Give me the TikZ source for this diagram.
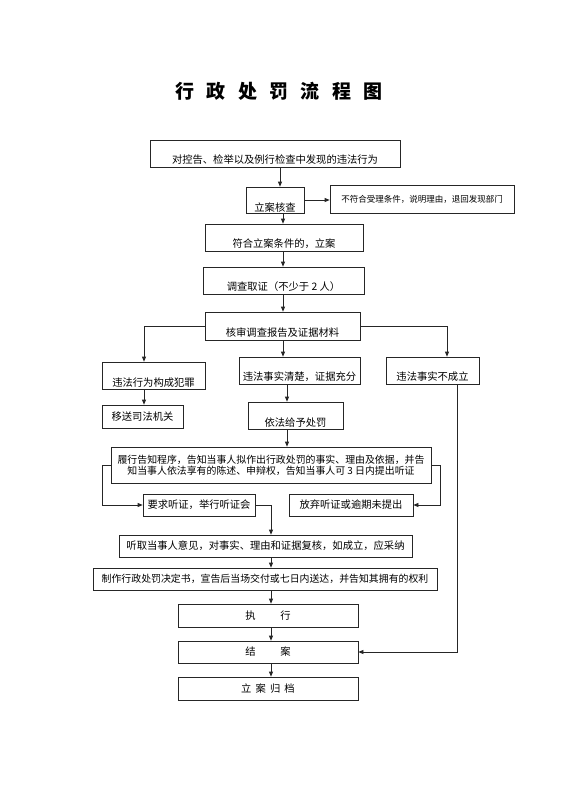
\documentclass[tikz,border=0pt]{standalone}
\usepackage{fontspec}
\setmainfont{Noto Sans CJK SC}
\usetikzlibrary{arrows.meta, positioning}

\begin{document}
\begin{tikzpicture}[
    x=1pt, y=-1pt,
    font=\fontsize{10.3}{11}\selectfont,
    box/.style 2 args={draw=black!85, line width=0.7pt, inner sep=0pt, minimum width=#1, minimum height=#2, align=center},
    low/.style 2 args={text height=#1, text depth=#2},
    small/.style={font=\fontsize{9.9}{11}\selectfont},
    arrow/.style={-{Triangle[length=5pt, width=4pt]}, line width=0.7pt, draw=black!85},
    link/.style={line width=0.7pt, draw=black!85}
]
\useasboundingbox (0,0) rectangle (560,792);

% title
\node[font=\fontsize{19}{20}\selectfont\bfseries] (title) at (279,91)
  {行\hspace{0.65em}政\hspace{0.65em}处\hspace{0.65em}罚\hspace{0.65em}流\hspace{0.65em}程\hspace{0.65em}图};

% columns used by the connectors
\coordinate (cA) at (280,0);
\coordinate (cB) at (283,0);
\coordinate (cC) at (287,0);
\coordinate (cD) at (271,0);
\coordinate (cL) at (144,0);
\coordinate (cR) at (447,0);
\coordinate (cS) at (457,0);
\coordinate (cLL) at (102,0);
\coordinate (cRR) at (440,0);

\node[box={250pt}{27pt}, low={23pt}{4pt}] (report) at (275,153.5) {对控告、检举以及例行检查中发现的违法行为};
\node[box={58pt}{26pt}, low={24pt}{2pt}] (check) at (275,200) {立案核查};
\node[box={184pt}{28pt}, low={17pt}{11pt}, font=\fontsize{8.5}{10}\selectfont] (reject) at (422,199) {不符合受理条件，说明理由，退回发现部门};
\node[box={158pt}{27pt}, low={23pt}{4pt}] (accept) at (284,237.5) {符合立案条件的，立案};
\node[box={161pt}{27pt}, low={23pt}{4pt}] (survey) at (283.5,280.5) {调查取证（不少于 2 人）};
\node[box={155pt}{28pt}, low={24pt}{4pt}] (review) at (282.5,326) {核审调查报告及证据材料};
\node[box={103pt}{27pt}, low={24pt}{3pt}] (crime) at (153.5,375.5) {违法行为构成犯罪};
\node[box={121pt}{27pt}, low={23pt}{4pt}] (clear) at (299.5,370.5) {违法事实清楚，证据充分};
\node[box={93pt}{27pt}, low={23pt}{4pt}] (nofact) at (432.5,370.5) {违法事实不成立};
\node[box={81pt}{23pt}, low={15pt}{8pt}] (court) at (142.5,416.5) {移送司法机关};
\node[box={95pt}{27pt}, low={24pt}{3pt}] (punish) at (295.5,415.5) {依法给予处罚};
\node[box={320pt}{36pt}, small] (inform) at (271,465)
  {履行告知程序，告知当事人拟作出行政处罚的事实、理由及依据，并告\\知当事人依法享有的陈述、申辩权，告知当事人可 3 日内提出听证};
\node[box={112pt}{22pt}] (hearing) at (199,505) {要求听证，举行听证会};
\node[box={124pt}{22pt}] (waive) at (351,505) {放弃听证或逾期未提出};
\node[box={293pt}{22pt}] (opinion) at (265.5,546) {听取当事人意见，对事实、理由和证据复核，如成立，应采纳};
\node[box={344pt}{22pt}, small] (decide) at (265,579) {制作行政处罚决定书，宣告后当场交付或七日内送达，并告知其拥有的权利};
\node[box={180pt}{23pt}] (execute) at (268,615.5) {执\hspace{2.4em}行};
\node[box={180pt}{22pt}] (close) at (268,652) {结\hspace{2.4em}案};
\node[box={180pt}{23pt}] (archive) at (268,688.5) {立\hspace{0.4em}案\hspace{0.4em}归\hspace{0.4em}档};

% connectors
\draw[arrow] (report.south -| cA) -- (check.north -| cA);
\draw[arrow] (check.east) -- (check.east -| reject.west);
\draw[arrow] (check.south -| cB) -- (accept.north -| cB);
\draw[arrow] (accept.south -| cB) -- (survey.north -| cB);
\draw[arrow] (survey.south -| cB) -- (review.north -| cB);
\draw[arrow] (review.west) -| (cL |- crime.north);
\draw[arrow] (review.south -| cB) -- (clear.north -| cB);
\draw[arrow] (review.east) -| (cR |- nofact.north);
\draw[arrow] (crime.south -| cL) -- (court.north -| cL);
\draw[arrow] (clear.south -| cC) -- (punish.north -| cC);
\draw[arrow] (punish.south -| cC) -- (inform.north -| cC);
\draw[arrow] (inform.west) -- (cLL |- inform.west) |- (hearing.west);
\draw[arrow] (inform.east) -- (cRR |- inform.east) |- (waive.east);
\draw[link] (hearing.east) -- (cD |- hearing.east);
\draw[arrow] (cD |- hearing.east) -- (opinion.north -| cD);
\draw[arrow] (opinion.south -| cD) -- (decide.north -| cD);
\draw[arrow] (decide.south -| cD) -- (execute.north -| cD);
\draw[arrow] (execute.south -| cD) -- (close.north -| cD);
\draw[arrow] (close.south -| cD) -- (archive.north -| cD);
\draw[arrow] (nofact.south -| cS) |- (close.east);
\end{tikzpicture}
\end{document}
